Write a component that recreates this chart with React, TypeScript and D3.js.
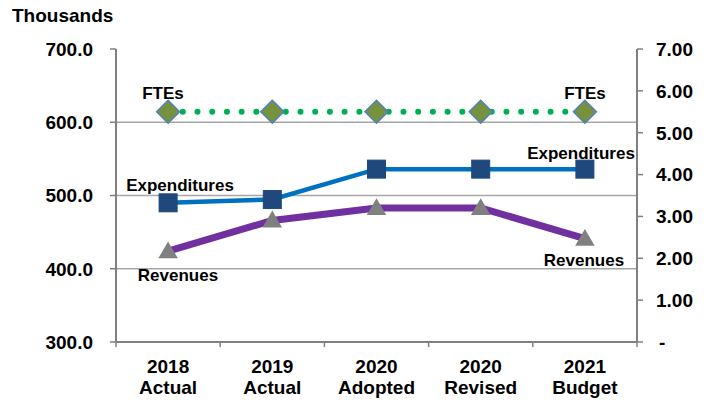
import React from "react";
import * as d3 from "d3";

const categories = ["2018|Actual", "2019|Actual", "2020|Adopted", "2020|Revised", "2021|Budget"];
const expenditures = [490, 494.5, 536, 536, 536];
const revenues = [424, 466, 483, 483, 441];
const ftes = [5.5, 5.5, 5.5, 5.5, 5.5];
const leftTicks = [300, 400, 500, 600, 700];
const rightTicks = [0, 1, 2, 3, 4, 5, 6, 7];
const gridValues = [400, 500, 600];

const W = 710, H = 403;
const L = 116, R = 637, T = 49, B = 342;
const FONT = "'Liberation Sans', Arial, sans-serif";

export default function App() {
  const x = d3.scaleBand<string>().domain(categories).range([L, R]);
  const cx = (c: string) => (x(c) as number) + x.bandwidth() / 2;
  const yL = d3.scaleLinear().domain([300, 700]).range([B, T]);
  const yR = d3.scaleLinear().domain([0, 7]).range([B, T]);

  const lineL = d3.line<number>().x((_, i) => cx(categories[i])).y((d) => yL(d));
  const lineR = d3.line<number>().x((_, i) => cx(categories[i])).y((d) => yR(d));

  const boundaries = categories.map((c) => x(c) as number).concat([R]);

  const tri = d3.symbol().type(d3.symbolTriangle).size(150)() as string;

  return (
    <svg width={W} height={H} style={{ position: "absolute", left: 0, top: 0, fontFamily: FONT }}>
      <rect width={W} height={H} fill="#fff" />
      <text x={12} y={22} fontSize={19} fontWeight="bold" fill="#000">Thousands</text>

      {gridValues.map((v) => (
        <line key={v} x1={L} x2={R} y1={yL(v)} y2={yL(v)} stroke="#A6A6A6" strokeWidth={1.5} />
      ))}

      {/* left axis */}
      <line x1={L} x2={L} y1={T} y2={B} stroke="#808080" strokeWidth={2} />
      {leftTicks.map((v) => (
        <g key={v}>
          <line x1={L - 6} x2={L} y1={yL(v)} y2={yL(v)} stroke="#808080" strokeWidth={1.5} />
          <text x={93} y={yL(v)} dy="0.36em" textAnchor="end" fontSize={19} fontWeight="bold">
            {v.toFixed(1)}
          </text>
        </g>
      ))}

      {/* right axis */}
      <line x1={R} x2={R} y1={T} y2={B} stroke="#808080" strokeWidth={2} />
      {rightTicks.map((v) => (
        <g key={v}>
          <line x1={R} x2={R + 6} y1={yR(v)} y2={yR(v)} stroke="#808080" strokeWidth={1.5} />
          <text x={v === 0 ? 659 : 656} y={yR(v)} dy="0.36em" textAnchor="start" fontSize={19} fontWeight="bold">
            {v === 0 ? "-" : v.toFixed(2)}
          </text>
        </g>
      ))}

      {/* bottom axis */}
      <line x1={L} x2={R} y1={B} y2={B} stroke="#808080" strokeWidth={2} />
      {boundaries.map((b, i) => (
        <line key={i} x1={b} x2={b} y1={B} y2={B + 5} stroke="#808080" strokeWidth={1.5} />
      ))}
      {categories.map((c) => {
        const [a, b] = c.split("|");
        return (
          <text key={c} x={cx(c)} textAnchor="middle" fontSize={19} fontWeight="bold">
            <tspan x={cx(c)} y={373}>{a}</tspan>
            <tspan x={cx(c)} y={394}>{b}</tspan>
          </text>
        );
      })}

      {/* FTEs dotted */}
      <path d={lineR(ftes) as string} fill="none" stroke="#00B050" strokeWidth={6}
        strokeLinecap="round" strokeDasharray="0.01 14.7" />
      {/* Revenues */}
      <path d={lineL(revenues) as string} fill="none" stroke="#7030A0" strokeWidth={7} />
      {/* Expenditures */}
      <path d={lineL(expenditures) as string} fill="none" stroke="#0070C0" strokeWidth={4.5} />

      {ftes.map((v, i) => {
        const px = cx(categories[i]), py = yR(v);
        return (
          <path key={"f" + i} d={`M${px},${py - 11.5}L${px + 11.5},${py}L${px},${py + 11.5}L${px - 11.5},${py}Z`}
            fill="#76923C" stroke="#4F81BD" strokeWidth={1.5} />
        );
      })}
      {expenditures.map((v, i) => (
        <rect key={"e" + i} x={cx(categories[i]) - 9} y={yL(v) - 9} width={18} height={18}
          fill="#1F497D" stroke="#1F497D" strokeWidth={1} />
      ))}
      {revenues.map((v, i) => (
        <path key={"r" + i} d={tri} transform={`translate(${cx(categories[i])},${yL(v) + 1.5}) scale(1.05,1.05)`}
          fill="#808080" />
      ))}

      <g fontSize={17} fontWeight="bold" textAnchor="middle">
        <text x={163} y={99}>FTEs</text>
        <text x={585} y={99}>FTEs</text>
        <text x={180} y={191}>Expenditures</text>
        <text x={581} y={159}>Expenditures</text>
        <text x={178} y={281}>Revenues</text>
        <text x={584} y={266}>Revenues</text>
      </g>
    </svg>
  );
}
